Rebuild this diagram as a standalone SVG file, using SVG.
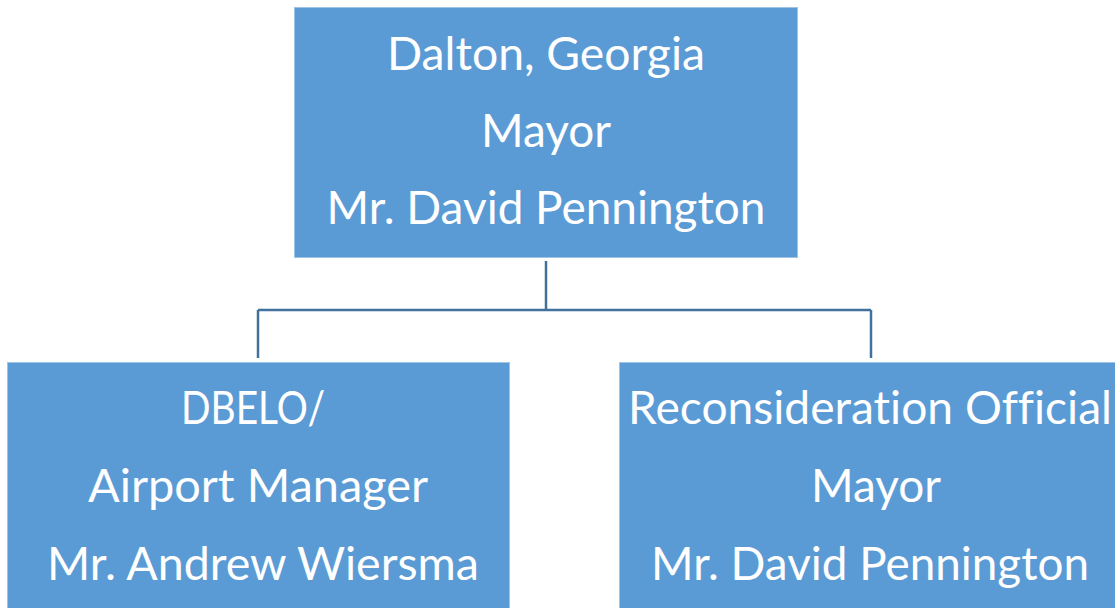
<svg xmlns="http://www.w3.org/2000/svg" width="1115" height="608" viewBox="0 0 1115 608">
<style>
.box{fill:#5B9BD5;stroke:#9DC3E6;stroke-width:1}
.t{font-family:Lato,"Open Sans",sans-serif;font-size:46px;fill:#FFFFFF;text-anchor:middle;font-variant-ligatures:none;font-feature-settings:"liga" 0,"clig" 0,"dlig" 0}
.c{fill:none;stroke:#41719C;stroke-width:2.5}
</style>
<rect x="0" y="0" width="1115" height="608" fill="#FFFFFF"/>
<g id="connectors">
<path class="c" d="M546 261 V310 M258 310 H871 M258 310 V358 M871 310 V358"/>
</g>
<g id="node-mayor">
<rect class="box" x="294.5" y="7.5" width="503" height="250"/>
<text class="t" x="546" y="70" textLength="318" lengthAdjust="spacingAndGlyphs">Dalton, Georgia</text>
<text class="t" x="546" y="147" textLength="130" lengthAdjust="spacingAndGlyphs">Mayor</text>
<text class="t" x="546" y="224" textLength="439" lengthAdjust="spacingAndGlyphs">Mr. David Pennington</text>
</g>
<g id="node-dbelo">
<rect class="box" x="7.5" y="362.5" width="502" height="250"/>
<text class="t" x="253" y="424" textLength="144" lengthAdjust="spacingAndGlyphs">DBELO/</text>
<text class="t" x="258" y="502" textLength="340" lengthAdjust="spacingAndGlyphs">Airport Manager</text>
<text class="t" x="263" y="580" textLength="432" lengthAdjust="spacingAndGlyphs">Mr. Andrew Wiersma</text>
</g>
<g id="node-reconsideration">
<rect class="box" x="619.5" y="362.5" width="502" height="250"/>
<text class="t" x="870" y="424" textLength="484" lengthAdjust="spacingAndGlyphs">Reconsideration Official</text>
<text class="t" x="876" y="502" textLength="130" lengthAdjust="spacingAndGlyphs">Mayor</text>
<text class="t" x="870" y="580" textLength="438" lengthAdjust="spacingAndGlyphs">Mr. David Pennington</text>
</g>
</svg>
